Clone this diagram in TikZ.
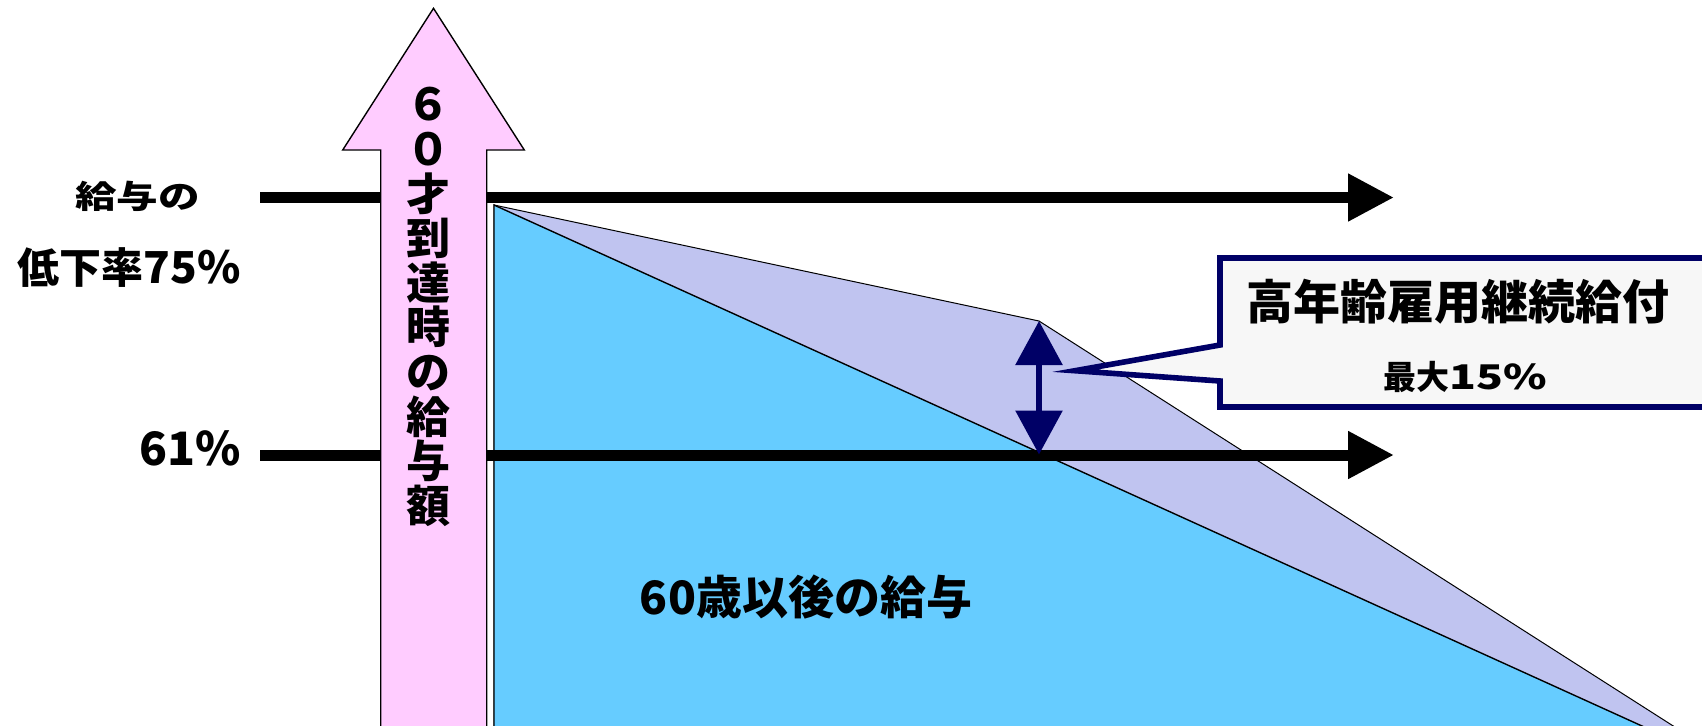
\documentclass[tikz,border=0pt]{standalone}
\usepackage{fontspec}
\usepackage{graphicx}
\setmainfont{Noto Sans CJK JP}
\definecolor{pinkarrow}{HTML}{FFCCFF}
\definecolor{skyblue}{HTML}{66CCFF}
\definecolor{lavender}{HTML}{C0C4F0}
\definecolor{navy}{HTML}{000066}
\definecolor{boxgray}{HTML}{F7F7F7}
\usetikzlibrary{arrows.meta}

\begin{document}
\begin{tikzpicture}[x=0.5pt, y=-0.5pt,
  bar/.style={line width=5.5pt, -{Triangle[length=23pt, width=22.5pt]}},
  lbl/.style={font=\bfseries\fontsize{#1}{#1}\selectfont, inner sep=0pt}]
  \useasboundingbox (0,0) rectangle (1702,725);
  \clip (0,0) rectangle (1702,725);
  % salary areas
  \coordinate (start) at (494,205);
  \coordinate (kink) at (1039,321);
  \coordinate (meet) at (1750,775);
  \coordinate (cross) at (1039,454.5);
  \filldraw[fill=lavender, line width=0.5pt] (start) -- (kink) -- (meet) -- (494,780) -- cycle;
  \filldraw[fill=skyblue, line width=0.7pt] (start) -- (meet) -- (494,780) -- cycle;
  % level lines
  \coordinate (top-from) at (260,197.5);
  \coordinate (top-to) at (1394,197.5);
  \coordinate (low-from) at (260,455);
  \coordinate (low-to) at (1394,455);
  \draw[bar] (top-from) -- (top-to);
  \draw[bar] (low-from) -- (low-to);
  % arrow at age 60
  \filldraw[fill=pinkarrow, line width=0.7pt] (380.7,780) -- (380.7,150) -- (342.7,150)
    -- (433.5,8.3) -- (524.3,150) -- (486.7,150) -- (486.7,780) -- cycle;
  \node[align=center, inner sep=0pt, font=\bfseries\fontsize{22pt}{22.3pt}\selectfont]
    (age-sixty) at (428,307) {６\\０\\才\\到\\達\\時\\の\\給\\与\\額};
  % benefit gap
  \draw[navy, line width=3pt, {Triangle[length=22pt, width=23pt]}-{Triangle[length=22pt, width=23pt]}]
    (kink) -- (cross);
  \coordinate (tip) at (1075,370.7);
  \filldraw[fill=boxgray, draw=navy, line width=2.8pt] (1220,258) -- (1760,258) -- (1760,407)
    -- (1220,407) -- (1220,381) -- (tip) -- (1220,345) -- cycle;
  \node[lbl=23.5pt] (benefit) at (1458,302) {高年齢雇用継続給付};
  \node[lbl=16.5pt] (benefit-max) at (1465,377) {最大{\fontsize{17pt}{17pt}\selectfont\scalebox{1.3}[1]{15\%}}};
  % labels
  \node[lbl=16pt] (rate-head) at (137.5,196) {\scalebox{1.3}[1]{給与の}};
  \node[lbl=21pt] (rate-top) at (129,268) {低下率{\fontsize{22pt}{22pt}\selectfont 75\%}};
  \node[lbl=23pt, anchor=east] (rate-low) at (241,448) {61\%};
  \node[lbl=23pt] (after-sixty) at (806,597) {60歳以後の給与};
\end{tikzpicture}
\end{document}
